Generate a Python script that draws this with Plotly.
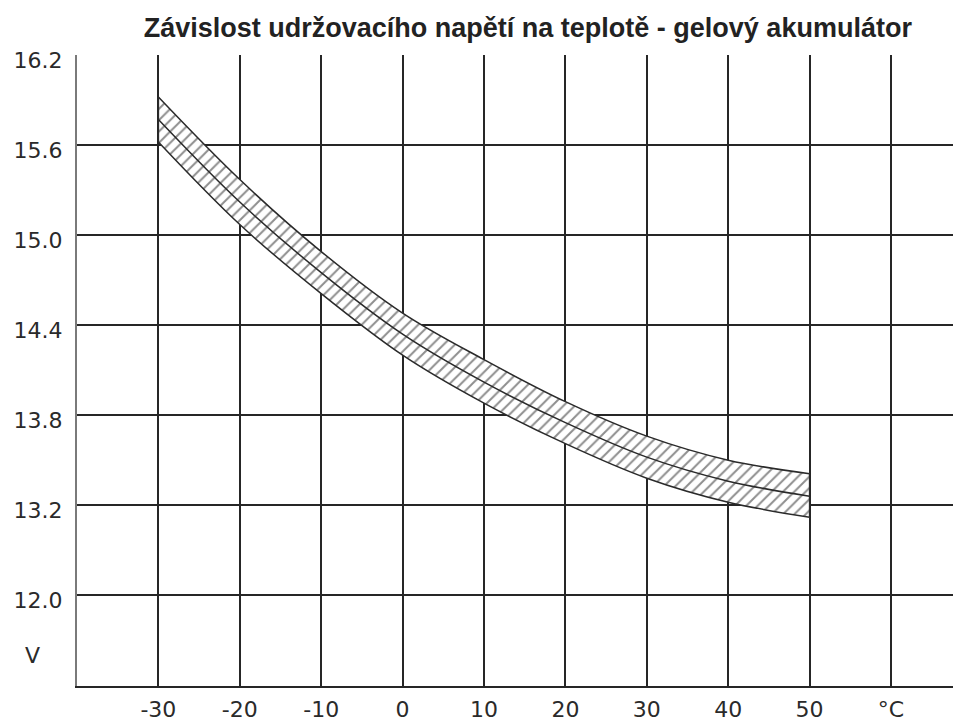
import plotly.graph_objects as go

# Temperature (°C)
temps = [-30, -20, -10, 0, 10, 20, 30, 40, 50]
# Float voltage band (V)
upper = [15.92, 15.37, 14.89, 14.48, 14.17, 13.89, 13.66, 13.50, 13.41]
middle = [15.77, 15.22, 14.75, 14.34, 14.02, 13.75, 13.52, 13.36, 13.26]
lower = [15.62, 15.07, 14.61, 14.20, 13.88, 13.61, 13.38, 13.22, 13.12]

x_tickvals = [-30, -20, -10, 0, 10, 20, 30, 40, 50, 60]
x_ticktext = ["-30", "-20", "-10", "0", "10", "20", "30", "40", "50", "°C"]
y_tickvals = [12.6, 13.2, 13.8, 14.4, 15.0, 15.6, 16.2]
y_ticktext = ["12.0", "13.2", "13.8", "14.4", "15.0", "15.6", "16.2"]

title = "Závislost udržovacího napětí na teplotě - gelový akumulátor"

line_color = "#2a2a2a"
pattern = dict(shape="/", fgcolor="#1e1e1e", bgcolor="white", size=8, solidity=0.25)

fig = go.Figure()
fig.add_trace(go.Scatter(x=temps, y=lower, mode="lines", line=dict(color=line_color, width=1.5, shape="spline"),
                         showlegend=False, hoverinfo="skip"))
fig.add_trace(go.Scatter(x=temps, y=middle, mode="lines", line=dict(color=line_color, width=1.5, shape="spline"),
                         fill="tonexty", fillpattern=pattern, fillcolor="white",
                         showlegend=False, hoverinfo="skip"))
fig.add_trace(go.Scatter(x=temps, y=upper, mode="lines", line=dict(color=line_color, width=1.5, shape="spline"),
                         fill="tonexty", fillpattern=pattern, fillcolor="white",
                         showlegend=False, hoverinfo="skip"))
# end edges of the band
fig.add_trace(go.Scatter(x=[temps[0], temps[0]], y=[lower[0], upper[0]], mode="lines",
                         line=dict(color=line_color, width=1.5), showlegend=False, hoverinfo="skip"))
fig.add_trace(go.Scatter(x=[temps[-1], temps[-1]], y=[lower[-1], upper[-1]], mode="lines",
                         line=dict(color=line_color, width=1.5), showlegend=False, hoverinfo="skip"))

tick_font = dict(family="DejaVu Sans", size=22, color="#2a2a2a")

fig.update_layout(
    width=953, height=713,
    margin=dict(l=69, r=0, t=47, b=35, autoexpand=False),
    paper_bgcolor="white", plot_bgcolor="white",
    title=dict(text=title, x=0.51, xref="paper", xanchor="center", y=0.973, yanchor="middle",
               font=dict(family="Liberation Sans", size=27, color="#222222", weight="bold")),
    xaxis=dict(range=[-40, 68.6], tickmode="array", tickvals=x_tickvals, ticktext=x_ticktext,
               showgrid=True, gridcolor="#262626", gridwidth=2.2, zeroline=False, automargin=False,
               showline=True, linecolor="#262626", linewidth=2.2,
               ticks="outside", ticklen=2, tickcolor="rgba(0,0,0,0)", tickfont=tick_font),
    yaxis=dict(range=[11.995, 16.2], tickmode="array", tickvals=y_tickvals, ticktext=y_ticktext,
               showgrid=True, gridcolor="#262626", gridwidth=2.2, zeroline=False, automargin=False,
               showline=True, linecolor="#7a7a7a", linewidth=2,
               ticks="outside", ticklen=8, tickcolor="rgba(0,0,0,0)", tickfont=tick_font,
               ticklabelshift=5),
    annotations=[dict(text="V", xref="paper", yref="y", x=-0.05, y=12.2, showarrow=False,
                      xanchor="center", yanchor="middle", font=tick_font)],
)

fig.write_html("out.html")
